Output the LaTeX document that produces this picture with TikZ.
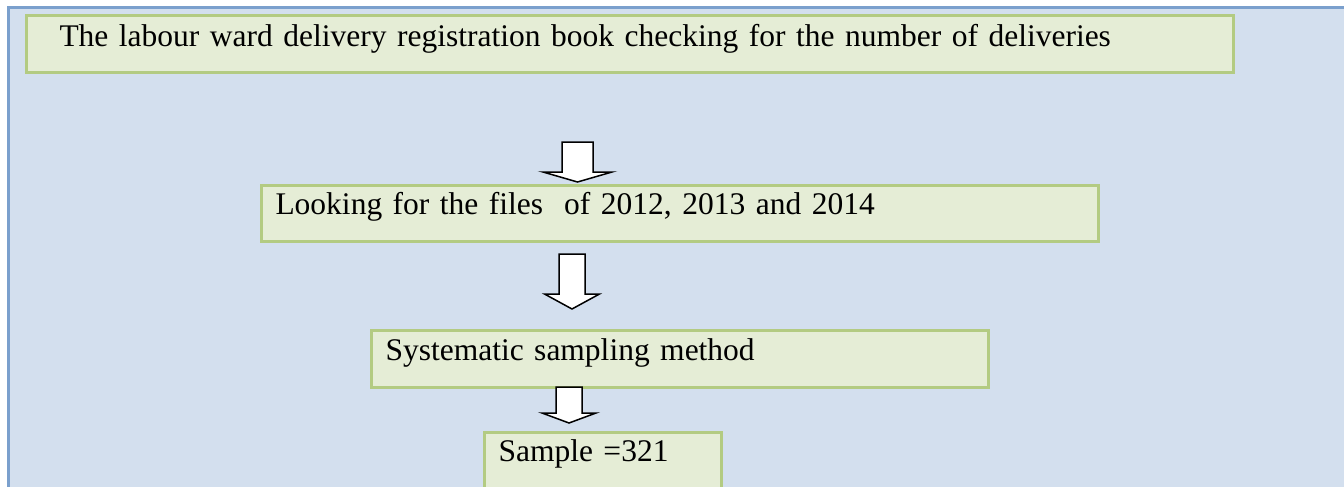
\documentclass[tikz,border=0pt]{standalone}
\usepackage{fontspec}
\setmainfont{Liberation Serif}

\definecolor{pagebg}{HTML}{D3DFEE}
\definecolor{frameblue}{HTML}{7BA0CD}
\definecolor{boxfill}{HTML}{E5EDD6}
\definecolor{boxline}{HTML}{B3CB82}

% hollow block arrow: centre x, shaft half width, top, wing y, head half width, tip y
\newcommand{\blockdown}[6]{%
  \draw[blockarrow] (#1-#2,#3) -- (#1+#2,#3) -- (#1+#2,#4) -- (#1+#5,#4)
    -- (#1,#6) -- (#1-#5,#4) -- (#1-#2,#4) -- cycle;}

\begin{document}
\begin{tikzpicture}[x=1pt, y=-1pt,
	flowbox/.style={draw=boxline, fill=boxfill, line width=3pt, anchor=north west,
		inner xsep=14.5pt, inner ysep=0pt, align=left, font=\fontsize{31.5}{36}\selectfont},
	blockarrow/.style={draw=black, fill=white, line width=1.5pt, line join=miter}]
		\useasboundingbox (0,0) rectangle (1344,487);
		\clip (0,0) rectangle (1344,487);
		\draw[frameblue, fill=pagebg, line width=3pt] (8.5,7.5) rectangle (1380,520);

		\node[flowbox, inner xsep=33.5pt, text width=1140pt, text height=30.5pt, text depth=26.5pt] (book) at (24.5,14.5)
			{The labour ward delivery registration book checking for the number of deliveries};
		\node[flowbox, text width=808pt, text height=29.5pt, text depth=26.5pt] (files) at (259.5,183.5)
			{Looking for the files\ \ of 2012, 2013 and 2014};
		\node[flowbox, text width=588pt, text height=30.5pt, text depth=26.5pt] (method) at (369.5,328.5)
			{Systematic sampling method};
		\node[flowbox, text width=208pt, text height=29.5pt, text depth=45pt] (sample) at (482.5,430.5)
			{Sample =321};

		\blockdown{577.5}{15.5}{142}{172}{34.5}{182}
		\blockdown{572}{13}{254}{294}{27.5}{309}
		\blockdown{569}{13}{387}{413}{27}{423}
\end{tikzpicture}
\end{document}
